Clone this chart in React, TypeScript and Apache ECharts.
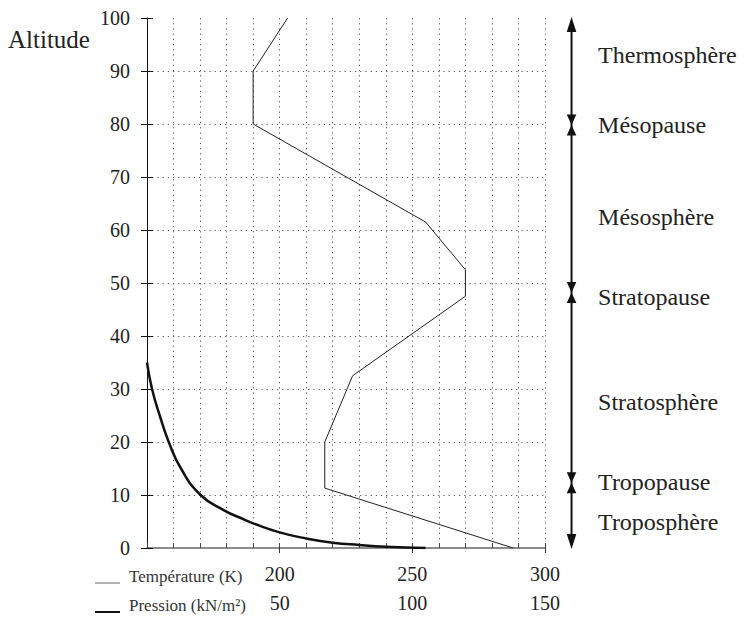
import React, { useEffect, useRef } from "react";
import * as echarts from "echarts";

// Temperature profile (K) vs altitude (km)
const temperatureK = [288, 217, 217, 227.5, 270, 270, 255, 190, 190, 203];
const temperatureAlt = [0, 11.3, 20, 32.5, 47.5, 52.5, 61.5, 80, 90, 100];

// Pressure profile (kN/m²) vs altitude (km)
const pressureKPa = [105, 90, 80, 70, 60, 50, 40, 36.9, 28.7, 20.2, 12.8, 8.2, 4.8, 1.9, 0];
const pressureAlt = [0, 0.25, 0.57, 1.0, 1.8, 2.95, 4.65, 5.3, 7.2, 10, 15, 20, 25, 30, 35];

// Atmospheric layers
const layerNames = ["Troposphère", "Tropopause", "Stratosphère", "Stratopause", "Mésosphère", "Mésopause", "Thermosphère"];
const layerLabelAlt = [5, 12.5, 27.6, 47.4, 62.5, 79.8, 93];
const layerBoundaries = [12.3, 48.2, 79.8];
const layerRange = [0, 100];

// Axis tick labels
const temperatureTicks = [200, 250, 300];
const pressureTicks = [50, 100, 150];

const FONT = "Liberation Serif, DejaVu Serif, serif";
const ARROW_T = 310; // temperature-axis position of layer arrow
const LABEL_T = 320; // temperature-axis position of layer labels

export default function App() {
  const ref = useRef<HTMLDivElement>(null);

  useEffect(() => {
    if (!ref.current) return;
    const chart = echarts.init(ref.current, undefined, { renderer: "svg" });

    const dotted = { color: "#555", width: 1, type: [1.2, 4] as any };

    const option: any = {
      animation: false,
      backgroundColor: "#fff",
      textStyle: { fontFamily: FONT },
      grid: { left: 147, top: 18, width: 398, height: 530, containLabel: false, outerBoundsMode: "none" },
      xAxis: [
        {
          type: "value",
          min: 150,
          max: 300,
          interval: 10,
          position: "bottom",
          axisLine: { show: true, lineStyle: { color: "#666", width: 1.5 } },
          axisTick: { show: true, inside: true, length: 5, lineStyle: { color: "#444" } },
          axisLabel: { show: false },
          splitLine: { show: true, lineStyle: dotted },
        },
        {
          type: "value",
          min: 150,
          max: 300,
          interval: 50,
          position: "bottom",
          axisLine: { show: false },
          axisTick: { show: true, inside: false, length: 5, lineStyle: { color: "#333" }, customValues: temperatureTicks },
          axisLabel: {
            show: true,
            customValues: temperatureTicks,
            formatter: (v: number) => (temperatureTicks.includes(v) ? String(v) : ""),
            margin: 16,
            fontSize: 20,
            fontFamily: FONT,
            color: "#222",
          },
          splitLine: { show: false },
        },
        {
          type: "value",
          min: 0,
          max: 150,
          interval: 50,
          position: "bottom",
          offset: 29,
          axisLine: { show: false },
          axisTick: { show: false },
          axisLabel: {
            show: true,
            customValues: pressureTicks,
            formatter: (v: number) => (pressureTicks.includes(v) ? String(v) : ""),
            margin: 16,
            fontSize: 20,
            fontFamily: FONT,
            color: "#222",
          },
          splitLine: { show: false },
        },
      ],
      yAxis: [
        {
          type: "value",
          min: 0,
          max: 100,
          interval: 10,
          axisLine: { show: true, lineStyle: { color: "#111", width: 1 } },
          axisTick: { show: true, inside: false, length: 6, lineStyle: { color: "#111" } },
          axisLabel: { margin: 17, fontSize: 20, fontFamily: FONT, color: "#222" },
          splitLine: { show: true, showMinLine: false, showMaxLine: false, lineStyle: dotted },
        },
        {
          type: "value",
          min: 0,
          max: 100,
          interval: 10,
          position: "left",
          axisLine: { show: false },
          axisTick: { show: true, inside: true, length: 6, lineStyle: { color: "#111" } },
          axisLabel: { show: false },
          splitLine: { show: false },
        },
      ],
      series: [
        {
          type: "line",
          name: "Température",
          xAxisIndex: 0,
          yAxisIndex: 0,
          data: temperatureK.map((t, i) => [t, temperatureAlt[i]]),
          showSymbol: false,
          symbol: "none",
          silent: true,
          lineStyle: { color: "#222", width: 1 },
        },
        {
          type: "line",
          name: "Pression",
          xAxisIndex: 2,
          yAxisIndex: 0,
          data: pressureKPa.map((p, i) => [p, pressureAlt[i]]),
          showSymbol: false,
          symbol: "none",
          smooth: 0.5,
          silent: true,
          lineStyle: { color: "#111", width: 2.5 },
        },
        {
          type: "custom",
          xAxisIndex: 0,
          yAxisIndex: 0,
          clip: false,
          silent: true,
          data: [[ARROW_T, 0]],
          renderItem: (params: any, api: any) => {
            const children: any[] = [];
            const top = api.coord([ARROW_T, layerRange[1]]);
            const bot = api.coord([ARROW_T, layerRange[0]]);
            const x = top[0];
            const hw = 4.8;
            const ah = 14;
            const dh = 10.5;
            children.push({
              type: "line",
              shape: { x1: x, y1: top[1] + 4, x2: x, y2: bot[1] - 4 },
              style: { stroke: "#111", lineWidth: 2 },
            });
            children.push({
              type: "polygon",
              shape: { points: [[x, top[1] - 1], [x - hw, top[1] + ah], [x + hw, top[1] + ah]] },
              style: { fill: "#111" },
            });
            children.push({
              type: "polygon",
              shape: { points: [[x, bot[1] + 1], [x - hw, bot[1] - ah], [x + hw, bot[1] - ah]] },
              style: { fill: "#111" },
            });
            layerBoundaries.forEach((b) => {
              const p = api.coord([ARROW_T, b]);
              children.push({
                type: "polygon",
                shape: { points: [[x, p[1]], [x - hw, p[1] - dh], [x + hw, p[1] - dh]] },
                style: { fill: "#111" },
              });
              children.push({
                type: "polygon",
                shape: { points: [[x, p[1]], [x - hw, p[1] + dh], [x + hw, p[1] + dh]] },
                style: { fill: "#111" },
              });
            });
            layerNames.forEach((name, i) => {
              const p = api.coord([LABEL_T, layerLabelAlt[i]]);
              children.push({
                type: "text",
                style: {
                  text: name,
                  x: p[0],
                  y: p[1],
                  align: "left",
                  verticalAlign: "middle",
                  fontSize: 24,
                  fontFamily: FONT,
                  fill: "#222",
                },
              });
            });
            return { type: "group", children };
          },
        },
      ],
      graphic: [
        {
          type: "text",
          left: 8,
          top: 27,
          style: { text: "Altitude", fontSize: 25, fontFamily: FONT, fill: "#222" },
        },
        {
          type: "line",
          shape: { x1: 95, y1: 583, x2: 120, y2: 583 },
          style: { stroke: "#666", lineWidth: 1 },
        },
        {
          type: "text",
          x: 129,
          y: 576,
          style: { text: "Température (K)", fontSize: 17, fontFamily: FONT, fill: "#333", verticalAlign: "middle", align: "left" },
        },
        {
          type: "line",
          shape: { x1: 95, y1: 612, x2: 120, y2: 612 },
          style: { stroke: "#111", lineWidth: 2 },
        },
        {
          type: "text",
          x: 129,
          y: 605,
          style: { text: "Pression (kN/m²)", fontSize: 17, fontFamily: FONT, fill: "#333", verticalAlign: "middle", align: "left" },
        },
      ],
    };

    chart.setOption(option);
    return () => chart.dispose();
  }, []);

  return (
    <div
      ref={ref}
      style={{ position: "fixed", left: 0, top: 0, width: 745, height: 617, background: "#fff" }}
    />
  );
}
